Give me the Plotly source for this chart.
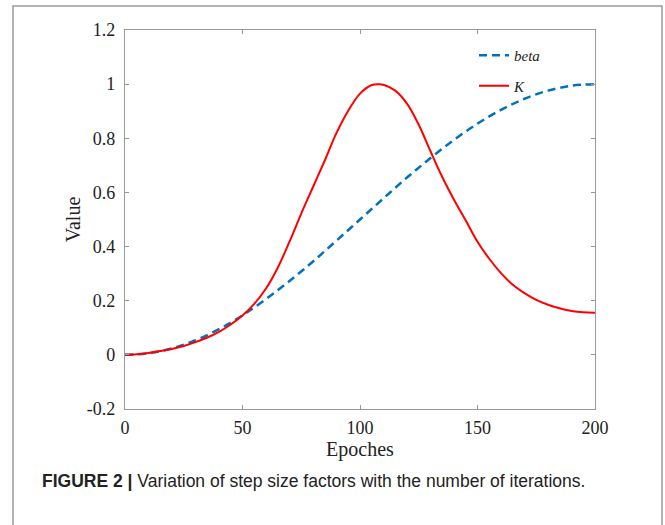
import plotly.graph_objects as go

epochs_beta = [0, 10, 20, 30, 40, 50, 60, 70, 80, 90, 100, 110, 120, 130, 140, 150, 160, 170, 180, 190, 200]
beta = [0.0, 0.006, 0.024, 0.054, 0.095, 0.146, 0.206, 0.273, 0.345, 0.422, 0.500,
        0.578, 0.655, 0.727, 0.794, 0.854, 0.905, 0.946, 0.976, 0.994, 1.0]

epochs_k = [0, 5, 10, 15, 20, 25, 30, 35, 40, 45, 50, 55, 60, 65, 70, 75, 80, 85, 90, 95,
            100, 105, 108, 110, 115, 120, 125, 130, 135, 140, 145, 150, 155, 160, 165, 170,
            175, 180, 185, 190, 195, 200]
k_vals = [0.0, 0.002, 0.007, 0.014, 0.022, 0.033, 0.047, 0.064, 0.085, 0.112, 0.145, 0.188,
          0.245, 0.322, 0.418, 0.522, 0.620, 0.718, 0.820, 0.902, 0.965, 0.997, 1.0, 0.998,
          0.976, 0.928, 0.850, 0.752, 0.657, 0.573, 0.496, 0.418, 0.355, 0.302, 0.259,
          0.228, 0.203, 0.185, 0.172, 0.162, 0.157, 0.156]

x_ticks = [0, 50, 100, 150, 200]
y_ticks = [-0.2, 0, 0.2, 0.4, 0.6, 0.8, 1, 1.2]
y_tick_text = ["-0.2", "0", "0.2", "0.4", "0.6", "0.8", "1", "1.2"]

W, H = 665, 525
L, R, T, B = 125, 70, 30, 116
pw, ph = W - L - R, H - T - B

def px_x(p):
    return (p - L) / pw

def px_y(p):
    return (H - B - p) / ph

fig = go.Figure()
fig.add_trace(go.Scatter(
    x=epochs_beta, y=beta, mode="lines", name="beta", legendgroup="a",
    line=dict(color="#0072BD", width=2.5, dash="8px,5px", shape="spline", smoothing=1.0),
))
fig.add_trace(go.Scatter(
    x=epochs_k, y=k_vals, mode="lines", name="K", legendgroup="b",
    line=dict(color="#FF0000", width=2, shape="spline", smoothing=1.0),
))

axis_common = dict(
    showgrid=False, zeroline=False, showline=True, linecolor="#999999", linewidth=1.2,
    mirror="ticks", ticks="inside", ticklen=4, tickcolor="#999999", tickwidth=1,
    tickfont=dict(family="Liberation Serif", size=18, color="#222222"),
)

fig.update_layout(
    width=W, height=H,
    margin=dict(l=L, r=R, t=T, b=B),
    paper_bgcolor="white", plot_bgcolor="white",
    showlegend=True,
    legend=dict(
        x=px_x(474), y=px_y(39), xanchor="left", yanchor="top",
        bgcolor="rgba(0,0,0,0)", borderwidth=0, tracegroupgap=8,
        font=dict(family="Liberation Serif", size=15, color="#222222", style="italic"),
        itemwidth=30,
    ),
    xaxis=dict(range=[0, 200], tickvals=x_ticks, ticktext=[str(v) for v in x_ticks],
               title=dict(text="Epoches", font=dict(family="Liberation Serif", size=20, color="#222222"), standoff=4),
               ticklabelstandoff=2, **axis_common),
    yaxis=dict(range=[-0.2, 1.2], tickvals=y_ticks, ticktext=y_tick_text,
               title=dict(text="Value", font=dict(family="Liberation Serif", size=20, color="#222222"), standoff=0),
               ticklabelstandoff=5, **axis_common),
)

# outer figure frame
fig.add_shape(type="rect", xref="paper", yref="paper",
              x0=px_x(13), x1=px_x(662), y0=px_y(540), y1=px_y(6),
              line=dict(color="#9a9a9a", width=1.5), fillcolor="rgba(0,0,0,0)", layer="below")

fig.add_annotation(
    xref="paper", yref="paper", x=px_x(40), y=px_y(481), xanchor="left", yanchor="middle",
    text="<b>FIGURE 2 |</b> Variation of step size factors with the number of iterations.",
    showarrow=False, font=dict(family="Liberation Sans", size=17.5, color="#222222"),
)

fig.write_html("out.html")
